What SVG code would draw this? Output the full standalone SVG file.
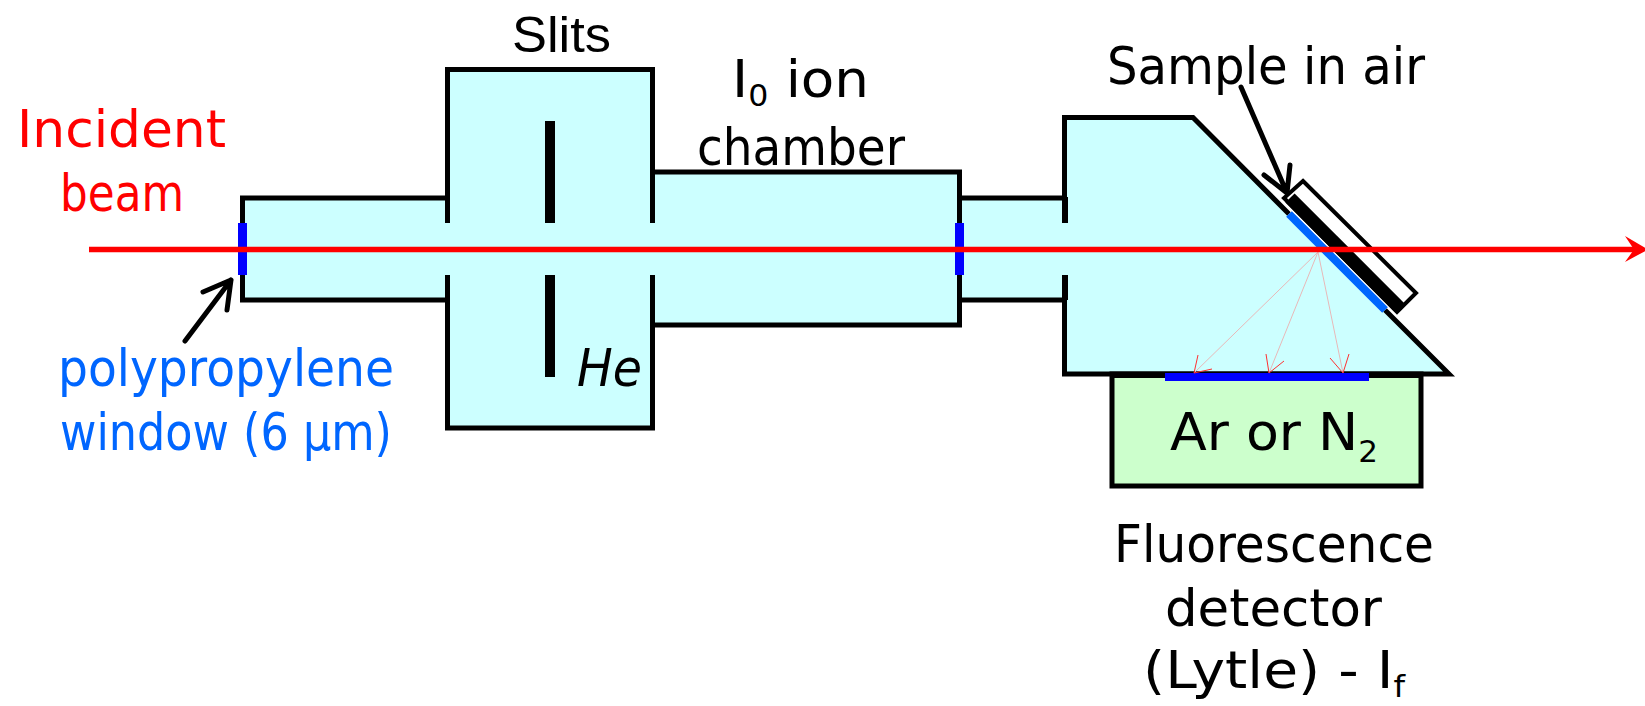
<svg xmlns="http://www.w3.org/2000/svg" width="1645" height="706" viewBox="0 0 1645 706">
<style>
.c{fill:#ccffff}
.w{fill:none;stroke:#000;stroke-width:5;stroke-linejoin:miter;stroke-linecap:butt}
.a{fill:none;stroke:#000;stroke-width:5;stroke-linecap:round;stroke-linejoin:round}
.t{font-family:"DejaVu Sans",sans-serif;font-size:52px;fill:#000}
.sub{font-size:30px}
.f{fill:none;stroke:#e8b8b8;stroke-width:1}
.h{fill:none;stroke:#ff3030;stroke-width:1}
</style>
<rect width="1645" height="706" fill="#fff"/>
<g id="tube-left">
<rect class="c" x="242" y="198" width="206" height="102"/>
<path class="w" d="M448 198H242.500V300H448"/>
<rect x="238" y="223" width="9" height="52" fill="#0000ff"/>
</g>
<g id="tube-right">
<rect class="c" x="960" y="198" width="105" height="102"/>
<path class="w" d="M960 198H1065M960 300H1065"/>
</g>
<g id="i0-chamber">
<rect class="c" x="652" y="172" width="308" height="153"/>
<path class="w" d="M652 172H959.500V325H652"/>
<rect x="955" y="223" width="9" height="52" fill="#0000ff"/>
</g>
<g id="slits-box">
<rect class="c" x="448" y="70" width="204" height="358"/>
<path class="w" d="M447.500 223V69.500H652.500V223M447.500 275V428H652.500V275"/>
<rect x="545" y="121" width="10" height="102" fill="#000"/>
<rect x="545" y="275" width="10" height="102" fill="#000"/>
</g>
<g id="sample-housing">
<path class="c" d="M1065 117.500H1193L1449 374H1065Z"/>
<path class="w" d="M1064.500 223V117.500H1193L1289 214M1385 310L1449 374H1064.500V275"/>
<rect x="1062" y="197" width="6" height="26" fill="#000"/>
<rect x="1062" y="275" width="6" height="25" fill="#000"/>
</g>
<g id="sample">
<path d="M1303 181L1416 293L1397 312L1284 198Z" fill="#fff" stroke="#000" stroke-width="4"/>
<path d="M1290 198L1401 309" stroke="#000" stroke-width="13" fill="none"/>
<path d="M1289 214L1385 310" stroke="#0066ff" stroke-width="8" fill="none"/>
</g>
<g id="detector">
<rect x="1112" y="374" width="309" height="112" fill="#ccffcc" stroke="#000" stroke-width="5"/>
<rect x="1112" y="372" width="309" height="6" fill="#000"/>
<rect x="1165" y="373" width="204" height="8" fill="#0000ff"/>
</g>
<g id="connectors">
<path class="f" d="M1318 252L1194 373M1318 252L1269 373M1318 252L1343 373"/>
<path class="h" d="M1198 355L1194 373L1212 369M1266 354L1269 373L1284 361M1330 358L1343 373L1349 354"/>
<path d="M89 249.500H1635" stroke="#ff0000" stroke-width="5.500" fill="none"/>
<path d="M1625 236L1648 249.500L1625 262L1634 249.500Z" fill="#ff0000"/>
<path class="a" d="M185 341L231 280M203 292L231 280L227 310"/>
<path class="a" d="M1241 87L1287 193M1264 175L1287 193L1290 165"/>
</g>
<g id="labels">
<text class="t" x="17" y="147" style="fill:#ff0000" textLength="209" lengthAdjust="spacingAndGlyphs">Incident</text>
<text class="t" x="60" y="211" style="fill:#ff0000" textLength="124" lengthAdjust="spacingAndGlyphs">beam</text>
<text class="t" x="58" y="386" style="fill:#0066ff" textLength="336" lengthAdjust="spacingAndGlyphs">polypropylene</text>
<text class="t" x="60" y="450" style="fill:#0066ff" textLength="332" lengthAdjust="spacingAndGlyphs">window (6 μm)</text>
<text x="512" y="52" font-family="Liberation Sans, sans-serif" font-size="50" textLength="99" lengthAdjust="spacingAndGlyphs">Slits</text>
<text class="t" x="732" y="97" textLength="137" lengthAdjust="spacingAndGlyphs">I<tspan class="sub" dy="9">0</tspan><tspan dy="-9"> ion</tspan></text>
<text class="t" x="697" y="165" textLength="208" lengthAdjust="spacingAndGlyphs">chamber</text>
<text class="t" x="577" y="386" textLength="65" lengthAdjust="spacingAndGlyphs" font-style="italic">He</text>
<text class="t" x="1107" y="84" textLength="318" lengthAdjust="spacingAndGlyphs">Sample in air</text>
<text class="t" x="1170" y="450" textLength="208" lengthAdjust="spacingAndGlyphs">Ar or N<tspan class="sub" dy="12">2</tspan></text>
<text class="t" x="1114" y="562" textLength="320" lengthAdjust="spacingAndGlyphs">Fluorescence</text>
<text class="t" x="1165" y="626" textLength="217" lengthAdjust="spacingAndGlyphs">detector</text>
<text class="t" x="1143" y="688" textLength="262" lengthAdjust="spacingAndGlyphs">(Lytle) - I<tspan class="sub" dy="9">f</tspan></text>
</g>
</svg>
